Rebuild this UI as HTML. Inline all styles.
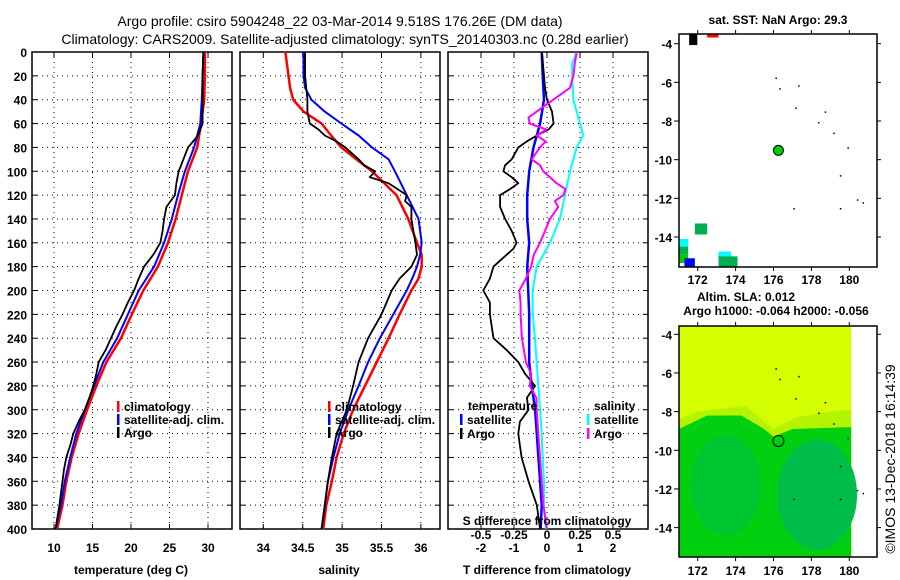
<!DOCTYPE html>
<html><head><meta charset="utf-8"><style>
html,body{margin:0;padding:0;background:#fff;}
svg{display:block;font-family:"Liberation Sans",sans-serif;}
.t{font-size:14px;fill:#000;}
.k{font-size:12px;font-weight:bold;fill:#000;}
</style></head><body>
<svg id="fig" width="900" height="580" viewBox="0 0 900 580" xmlns="http://www.w3.org/2000/svg">
<text class="t" x="340" y="26" text-anchor="middle">Argo profile: csiro 5904248_22 03-Mar-2014 9.518S 176.26E (DM data)</text>
<text class="t" x="345" y="44" text-anchor="middle">Climatology: CARS2009. Satellite-adjusted climatology: synTS_20140303.nc (0.28d earlier)</text>
<text class="k" x="778" y="24" text-anchor="middle">sat. SST: NaN Argo: 29.3</text>
<text class="k" x="746" y="301" text-anchor="middle">Altim. SLA: 0.012</text>
<text class="k" x="776" y="315" text-anchor="middle">Argo h1000: -0.064 h2000: -0.056</text>
<text class="t" x="0" y="0" text-anchor="middle" transform="translate(895,459) rotate(-90)">©IMOS 13-Dec-2018 16:14:39</text>
<g id="plots"></g>
</svg>
<script>
// ---- data: depth grid (m) ----
const depths = [0,20,40,60,80,100,120,140,160,180,200,220,240,260,280,300,320,340,360,380,400];
const tempClim = [29.6,29.6,29.5,29.1,28.6,27.4,26.6,25.8,24.8,23.5,21.6,20.1,18.7,16.8,15.5,14.3,13.2,12.3,11.6,11.1,10.4];
const tempSat  = [29.4,29.3,29.2,29.0,28.2,27.0,26.1,25.3,24.3,23.0,21.0,19.6,18.2,16.4,15.2,14.0,12.9,12.1,11.4,10.9,10.2];
const argoDepths = [0,20,40,60,70,80,90,100,110,120,130,140,150,160,170,180,190,200,210,220,230,240,250,260,270,280,290,300,310,320,330,340,350,360,380,400];
const tempArgo = [29.4,29.3,29.3,29.3,28.7,27.4,26.8,26.2,25.9,25.7,24.6,24.3,24.1,23.8,22.9,21.7,21.0,20.4,19.6,18.9,18.1,17.4,16.7,15.8,15.5,15.1,14.6,14.0,13.2,12.5,12.1,11.6,11.3,11.1,10.7,10.2];
const salDepths = [0,20,30,40,50,60,70,80,90,100,120,140,160,170,180,190,200,220,240,260,280,300,320,340,360,380,400];
const salClim = [34.28,34.32,34.34,34.38,34.51,34.74,34.86,34.99,35.18,35.38,35.69,35.84,35.95,36.01,36.01,35.97,35.88,35.73,35.59,35.44,35.29,35.14,35.02,34.93,34.87,34.80,34.76];
const salSat  = [34.51,34.51,34.53,34.61,34.78,34.99,35.21,35.38,35.59,35.67,35.82,35.97,36.01,35.99,35.95,35.89,35.82,35.65,35.48,35.33,35.21,35.08,34.97,34.89,34.82,34.78,34.74];
const salArgoDepths = [0,20,40,50,60,65,70,75,80,90,95,100,105,110,120,125,130,140,160,170,180,190,200,220,240,260,280,300,320,340,360,380,400];
const salArgo = [34.53,34.53,34.56,34.56,34.59,34.70,34.78,34.93,35.04,35.21,35.28,35.42,35.35,35.59,35.82,35.80,35.88,35.88,35.93,35.95,35.88,35.73,35.63,35.50,35.33,35.21,35.14,35.06,34.93,34.87,34.82,34.78,34.74];
// differences
const tDiffSat = [-0.16,-0.13,-0.09,-0.21,-0.41,-0.54,-0.60,-0.60,-0.54,-0.60,-0.57,-0.54,-0.54,-0.54,-0.46,-0.36,-0.31,-0.26,-0.21,-0.16,-0.19];
const tDiffArgoDepths = [0,30,40,50,60,65,70,75,80,90,95,100,105,110,115,120,130,140,150,160,165,170,180,190,200,210,220,240,250,260,270,280,290,300,310,320,330,340,360,380,400];
const tDiffArgo = [-0.15,-0.06,0.0,0.15,0.20,0.05,-0.31,-0.61,-0.87,-1.07,-1.27,-1.32,-1.07,-0.87,-1.12,-1.42,-1.42,-1.27,-1.07,-0.92,-1.02,-1.22,-1.62,-1.73,-1.93,-1.73,-1.73,-1.62,-1.22,-0.87,-0.66,-0.36,-0.61,-0.56,-0.82,-0.87,-0.82,-0.77,-0.56,-0.31,-0.21];
const sDiffSatDepths = [0,10,20,40,60,70,80,100,120,140,160,180,200,220,240,260,280,300,320,340,360,380,400];
const sDiffSat = [0.225,0.19,0.19,0.20,0.25,0.275,0.225,0.174,0.136,0.098,0.023,-0.078,-0.109,-0.109,-0.091,-0.078,-0.066,-0.053,-0.040,-0.033,-0.023,-0.023,-0.008];
const sDiffArgoDepths = [0,10,20,30,40,50,55,60,65,70,75,80,90,95,100,110,115,120,125,130,140,150,160,170,180,190,200,210,220,240,260,270,280,290,300,320,340,360,380,400];
const sDiffArgo = [0.225,0.21,0.20,0.174,0.048,-0.078,-0.14,-0.13,-0.005,-0.078,-0.01,-0.053,-0.116,-0.053,-0.028,0.073,0.14,0.124,0.06,0.085,0.023,-0.015,-0.053,-0.10,-0.12,-0.16,-0.21,-0.20,-0.20,-0.19,-0.16,-0.12,-0.13,-0.08,-0.078,-0.066,-0.053,-0.040,-0.028,0.0];
// ticks
const depthTicks = [0,20,40,60,80,100,120,140,160,180,200,220,240,260,280,300,320,340,360,380,400];
const tempTicks = [10,15,20,25,30];
const salTicks = [34,34.5,35,35.5,36];
const tDiffTicks = [-2,-1,0,1,2];
const sDiffTicks = [-0.5,-0.25,0,0.25,0.5];
const lonTicks = [172,174,176,178,180];
const latTicks = [-4,-6,-8,-10,-12,-14];
// map data
const argoLon = [176.26];
const argoLat = [-9.518];
const sstBoxes = [
 [171.55,-3.5,171.98,-4.07,'#000000'],[172.5,-3.5,173.1,-3.68,'#ff0000'],
 [171.85,-13.3,172.5,-13.87,'#00b050'],[171.0,-14.1,171.5,-14.5,'#00ffff'],
 [171.0,-14.5,171.5,-14.9,'#00b050'],[171.0,-14.9,171.5,-15.35,'#00cc00'],
 [171.3,-15.1,171.85,-15.55,'#0000ff'],[173.1,-14.75,173.75,-15.1,'#00ffff'],
 [173.1,-15.0,173.75,-15.55,'#00b050'],[173.7,-15.0,174.1,-15.55,'#00b050']];
const islands = [[176.1,-5.75],[176.3,-6.3],[177.3,-6.15],[177.15,-7.3],[178.7,-7.5],[178.35,-8.05],[179.15,-8.6],[179.9,-9.35],[179.5,-10.8],[177.05,-12.5],[179.5,-12.5],[180.4,-12.05],[180.7,-12.2]];
</script>
<script>
const NS='http://www.w3.org/2000/svg';
const root=document.getElementById('plots');
function mk(tag,at,parent){const e=document.createElementNS(NS,tag);for(const k in at)e.setAttribute(k,at[k]);(parent||root).appendChild(e);return e;}
const TOP=52,BOT=529;
function yD(d){return TOP+d*(BOT-TOP)/400;}
function p1x(t){return 54+(t-10)*7.7;}
function p2x(s){return 263.3+(s-34)*78.8;}
function p3x(t){return 547+t*33;}
function p3s(s){return 547+s*132;}
function line(xs,ds,fx,color,w,name){
  let p='';for(let i=0;i<xs.length;i++)p+=(i?'L':'M')+fx(xs[i]).toFixed(1)+','+yD(ds[i]).toFixed(1);
  const e=mk('path',{d:p,fill:'none',stroke:color,'stroke-width':w,'stroke-linejoin':'round'});
  
  
}
function panel(x0,x1,ticks,fx,name,yLabels,xlabel,xlabelPos){
  const g=mk('g',{});
  
  
  for(const d of depthTicks){const y=yD(d);
    if(d>0&&d<400){const gl=mk('line',{x1:x0,x2:x1,y1:y,y2:y,stroke:'#000','stroke-width':1,'stroke-dasharray':'1,4'},g);}
    mk('line',{x1:x0,x2:x0+5,y1:y,y2:y,stroke:'#000'},g);mk('line',{x1:x1-5,x2:x1,y1:y,y2:y,stroke:'#000'},g);
    if(yLabels){const t=mk('text',{x:x0-5,y:y+5,'text-anchor':'end',class:'k'},g);t.textContent=d;}
  }
  for(const v of ticks){const x=fx(v);
    const gl=mk('line',{x1:x,x2:x,y1:TOP,y2:BOT,stroke:'#000','stroke-width':1,'stroke-dasharray':'1,4'},g);
    mk('line',{x1:x,x2:x,y1:TOP,y2:TOP+5,stroke:'#000'},g);mk('line',{x1:x,x2:x,y1:BOT-5,y2:BOT,stroke:'#000'},g);
    const t=mk('text',{x:x,y:552,'text-anchor':'middle',class:'k'},g);t.textContent=v;
  }
  const f=mk('rect',{x:x0,y:TOP,width:x1-x0,height:BOT-TOP,fill:'none',stroke:'#000','stroke-width':1.5},g);
  
  const xl=mk('text',{x:xlabelPos,y:574,'text-anchor':'middle',class:'k'},g);xl.textContent=xlabel;
  
}
function legendEntry(x,y,color,label,name){
  const g=mk('g',{});
  
  
  mk('rect',{x:x,y:y-10,width:2.5,height:11,fill:color},g);
  const t=mk('text',{x:x+7,y:y,class:'k'},g);t.textContent=label;
}
// panel 1 temperature
panel(32,232,tempTicks,p1x,'temperature-panel',true,'temperature (deg C)',131);
line(tempClim,depths,p1x,'#ff0000',2.5,'temp-climatology-line');
line(tempSat,depths,p1x,'#0000ff',2,'temp-satellite-line');
line(tempArgo,argoDepths,p1x,'#000000',1.8,'temp-argo-line');
legendEntry(117,411,'#ff0000','climatology','legend-climatology');
legendEntry(117,424,'#0000ff','satellite-adj. clim.','legend-satellite-adj');
legendEntry(117,437,'#000000','Argo','legend-argo');
// panel 2 salinity
panel(240,440,salTicks,p2x,'salinity-panel',false,'salinity',339);
line(salClim,salDepths,p2x,'#ff0000',2.5,'sal-climatology-line');
line(salSat,salDepths,p2x,'#0000ff',2,'sal-satellite-line');
line(salArgo,salArgoDepths,p2x,'#000000',1.8,'sal-argo-line');
legendEntry(328,411,'#ff0000','climatology','legend-climatology-2');
legendEntry(328,424,'#0000ff','satellite-adj. clim.','legend-satellite-adj-2');
legendEntry(328,437,'#000000','Argo','legend-argo-2');
// panel 3 differences
panel(448,648,tDiffTicks,p3x,'difference-panel',false,'T difference from climatology',547);
line(tDiffSat,depths,p3x,'#0000ff',2.5,'tdiff-satellite-line');
line(tDiffArgo,tDiffArgoDepths,p3x,'#000000',1.8,'tdiff-argo-line');
line(sDiffSat,sDiffSatDepths,p3s,'#00ffff',2,'sdiff-satellite-line');
line(sDiffArgo,sDiffArgoDepths,p3s,'#ff00ff',2,'sdiff-argo-line');
{const t=mk('text',{x:468,y:410,class:'k'});t.textContent='temperature';
 const s=mk('text',{x:594,y:410,class:'k'});s.textContent='salinity';}
legendEntry(460,424,'#0000ff','satellite','legend-t-satellite');
legendEntry(460,438,'#000000','Argo','legend-t-argo');
legendEntry(587,424,'#00ffff','satellite','legend-s-satellite');
legendEntry(587,438,'#ff00ff','Argo','legend-s-argo');
{const t=mk('text',{x:547,y:525,'text-anchor':'middle',class:'k'});t.textContent='S difference from climatology';
 
 for(const v of sDiffTicks){const l=mk('text',{x:p3s(v),y:539,'text-anchor':'middle',class:'k'});l.textContent=v;
  }}
// maps
const MX0=679,MX1=877;
function mx(lon){return 697.7+(lon-172)*18.95;}
function map(y0,y1,lat4,name){
  const g=mk('g',{});
  
  
  const my=lat=>lat4+(-4-lat)*19.33;
  return {g,my};
}
// top map
{const m=map(34,267,43.7,'sst-map');const g=m.g,my=m.my;
 for(const b of sstBoxes){const r=mk('rect',{x:mx(b[0]),y:my(b[1]),width:mx(b[2])-mx(b[0]),height:my(b[3])-my(b[1]),fill:b[4]},g);}
 for(const p of islands)mk('rect',{x:mx(p[0]),y:my(p[1]),width:1.5,height:1.5,fill:'#000'},g);
 const c=mk('circle',{cx:mx(argoLon[0]),cy:my(argoLat[0]),r:5,fill:'#00cc00',stroke:'#000','stroke-width':1},g);
 
 mk('rect',{x:MX0,y:34,width:MX1-MX0,height:233,fill:'none',stroke:'#000','stroke-width':1.5},g);
 for(const l of latTicks){const y=my(l);mk('line',{x1:MX0-5,x2:MX0,y1:y,y2:y,stroke:'#000'},g);mk('line',{x1:MX1,x2:MX1+4,y1:y,y2:y,stroke:'#000'},g);
  const t=mk('text',{x:MX0-7,y:y+5,'text-anchor':'end',class:'k'},g);t.textContent=l;}
 for(const l of lonTicks){const x=mx(l);mk('line',{x1:x,x2:x,y1:267,y2:271,stroke:'#000'},g);mk('line',{x1:x,x2:x,y1:30,y2:34,stroke:'#000'},g);
  const t=mk('text',{x:x,y:284,'text-anchor':'middle',class:'k'},g);t.textContent=l;}
}
// bottom map
{const m=map(326,557,334.3,'sla-map');const g=m.g,my=m.my;
 const W=mx(180.1)-MX0;
 mk('rect',{x:MX0,y:326,width:W,height:231,fill:'#d4ff00'},g);
 mk('path',{d:`M${MX0},${my(-8.4)} L${mx(172)},${my(-8.0)} L${mx(174.5)},${my(-7.7)} L${mx(175.5)},${my(-8.5)} L${mx(176)},${my(-8.9)} L${mx(177.2)},${my(-8.3)} L${mx(179)},${my(-8.0)} L${MX0+W},${my(-7.9)} L${MX0+W},557 L${MX0},557Z`,fill:'#b4f400'},g);
 mk('path',{d:`M${MX0},${my(-8.9)} L${mx(172.5)},${my(-8.2)} L${mx(174.3)},${my(-8.2)} L${mx(175.5)},${my(-8.9)} L${mx(176)},${my(-9.3)} L${mx(177)},${my(-8.9)} L${MX0+W},${my(-8.8)} L${MX0+W},557 L${MX0},557Z`,fill:'#00d010'},g);
 mk('ellipse',{cx:mx(173.5),cy:my(-11.8),rx:35,ry:50,fill:'#00c430'},g);
 mk('ellipse',{cx:mx(178.3),cy:my(-12.3),rx:40,ry:55,fill:'#00bc48'},g);
 for(const p of islands)mk('rect',{x:mx(p[0]),y:my(p[1]),width:1.5,height:1.5,fill:'#000'},g);
 const c=mk('circle',{cx:mx(argoLon[0]),cy:my(argoLat[0]),r:5.5,fill:'none',stroke:'#000','stroke-width':1},g);
 
 mk('rect',{x:MX0,y:326,width:MX1-MX0,height:231,fill:'none',stroke:'#000','stroke-width':1.5},g);
 for(const l of latTicks){const y=my(l);mk('line',{x1:MX0-5,x2:MX0,y1:y,y2:y,stroke:'#000'},g);mk('line',{x1:MX1,x2:MX1+4,y1:y,y2:y,stroke:'#000'},g);
  const t=mk('text',{x:MX0-7,y:y+5,'text-anchor':'end',class:'k'},g);t.textContent=l;}
 for(const l of lonTicks){const x=mx(l);mk('line',{x1:x,x2:x,y1:557,y2:561,stroke:'#000'},g);mk('line',{x1:x,x2:x,y1:322,y2:326,stroke:'#000'},g);
  const t=mk('text',{x:x,y:575,'text-anchor':'middle',class:'k'},g);t.textContent=l;}
}
</script>
</body></html>
